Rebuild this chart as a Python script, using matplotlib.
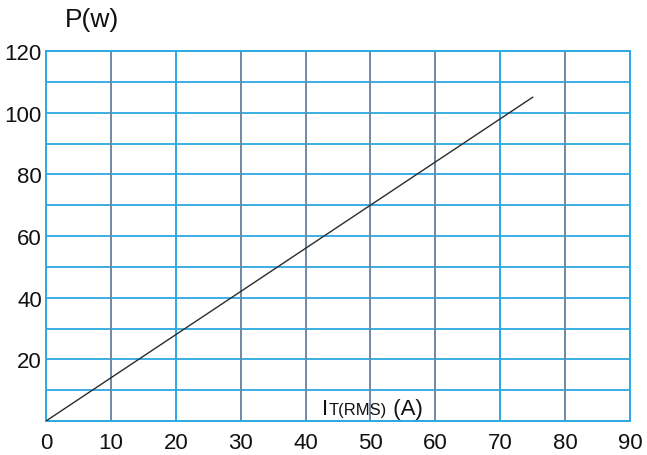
import matplotlib
matplotlib.use("Agg")
import matplotlib.pyplot as plt
from matplotlib.transforms import offset_copy

plt.rcParams['font.family'] = ['Liberation Sans', 'DejaVu Sans']

# data
current = [0, 75]
power = [0, 105]
x_ticks = [0, 10, 20, 30, 40, 50, 60, 70, 80, 90]
y_ticks = [20, 40, 60, 80, 100, 120]
y_grid = [10, 20, 30, 40, 50, 60, 70, 80, 90, 100, 110]
cyan_x = [20, 70]

CYAN = '#2aa8e2'
GREY = '#7088a2'

fig = plt.figure(figsize=(6.47, 4.56), dpi=100)
ax = fig.add_axes([46/647, 1-422/456, (630-46)/647, (422-52)/456])
ax.set_xlim(0, 90)
ax.set_ylim(0, 120)

for yv in y_grid:
    ax.axhline(yv, color=CYAN, lw=1.3, zorder=1)
for xv in x_ticks[1:-1]:
    ax.axvline(xv, color=CYAN if xv in cyan_x else GREY, lw=1.4, zorder=2)

for s in ax.spines.values():
    s.set_color(CYAN)
    s.set_linewidth(1.4)

ax.plot(current, power, color='#2b2b2b', lw=1.0, zorder=3)

ax.set_xticks(x_ticks)
ax.set_yticks(y_ticks)
ax.tick_params(axis='x', length=0, pad=8, labelsize=16, labelcolor='#111111')
ax.tick_params(axis='y', length=0, pad=3, labelsize=16, labelcolor='#111111')

fig.text(65/647, 1-20/456, 'P(w)', fontsize=19, va='center', ha='left', color='#111111')

# axis label inside plot
t1 = ax.text(42.6, 2.4, 'I', fontsize=16, color='#111111', va='baseline', ha='left')
fig.canvas.draw()
r = fig.canvas.get_renderer()
bb = t1.get_window_extent(r)
t2 = ax.text(0, 0, 'T(RMS)', fontsize=12, color='#111111', va='baseline', ha='left',
             transform=offset_copy(ax.transData, fig=fig, x=(bb.width) * 72 / fig.dpi, units='points'))
t2.set_position((42.6, 2.4))
fig.canvas.draw()
bb2 = t2.get_window_extent(r)
t3 = ax.text(42.6, 2.4, ' (A)', fontsize=16, color='#111111', va='baseline', ha='left',
             transform=offset_copy(ax.transData, fig=fig, x=(bb.width + bb2.width) * 72 / fig.dpi, units='points'))

fig.savefig('out.png', dpi=100)
